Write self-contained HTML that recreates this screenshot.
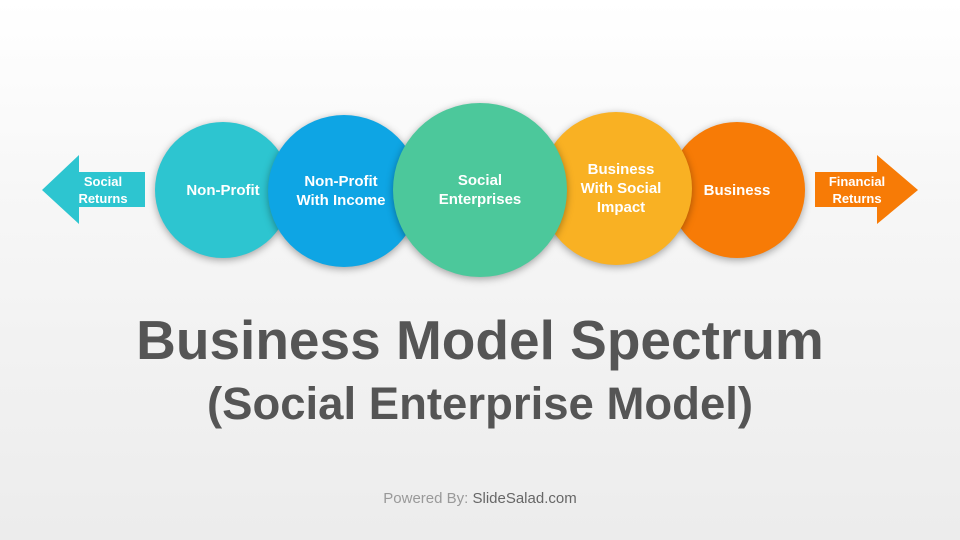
<!DOCTYPE html>
<html><head><meta charset="utf-8"><style>
html,body{margin:0;padding:0}
body{width:960px;height:540px;overflow:hidden;background:linear-gradient(#ffffff 0%,#f6f6f6 40%,#ececec 100%);font-family:"Liberation Sans",sans-serif;position:relative}
.c{position:absolute;border-radius:50%;display:flex;align-items:center;justify-content:center;text-align:center;color:#fff;font-weight:bold;font-size:15px;line-height:19px;box-shadow:0 2px 8px rgba(0,0,0,.35)}
.t{position:absolute;left:0;width:960px;text-align:center;color:#555;font-weight:bold}
</style></head><body>
<svg width="960" height="540" style="position:absolute;left:0;top:0">
<polygon points="42,190 79,155 79,172 145,172 145,207 79,207 79,224" fill="#2dc5d0"/>
<polygon points="918,190 877,155 877,172 815,172 815,207 877,207 877,224" fill="#f77b06"/>
<text x="103" y="186" fill="#fff" font-family="Liberation Sans" font-weight="bold" font-size="13" text-anchor="middle">Social</text>
<text x="103" y="203" fill="#fff" font-family="Liberation Sans" font-weight="bold" font-size="13" text-anchor="middle">Returns</text>
<text x="857" y="186" fill="#fff" font-family="Liberation Sans" font-weight="bold" font-size="13" text-anchor="middle">Financial</text>
<text x="857" y="203" fill="#fff" font-family="Liberation Sans" font-weight="bold" font-size="13" text-anchor="middle">Returns</text>
</svg>
<div class="c" style="left:155px;top:122px;width:136px;height:136px;background:#2dc5d0;z-index:1">Non-Profit</div>
<div class="c" style="left:268px;top:115px;width:152px;height:152px;background:#0ea5e4;z-index:2"><span style="margin-left:-6px">Non-Profit<br>With Income</span></div>
<div class="c" style="left:669px;top:122px;width:136px;height:136px;background:#f77b06;z-index:1">Business</div>
<div class="c" style="left:540px;top:112px;width:152px;height:153px;background:#f9b123;z-index:2"><span style="margin-left:10px">Business<br>With Social<br>Impact</span></div>
<div class="c" style="left:393px;top:103px;width:174px;height:174px;background:#4cc89b;z-index:3">Social<br>Enterprises</div>
<div class="t" style="top:306px;font-size:55px;line-height:68px">Business Model Spectrum</div>
<div class="t" style="top:376px;font-size:45.5px;line-height:56px">(Social Enterprise Model)</div>
<div class="t" style="top:490px;font-size:15px;font-weight:normal;color:#999">Powered By: <span style="color:#666">SlideSalad.com</span></div>
</body></html>
